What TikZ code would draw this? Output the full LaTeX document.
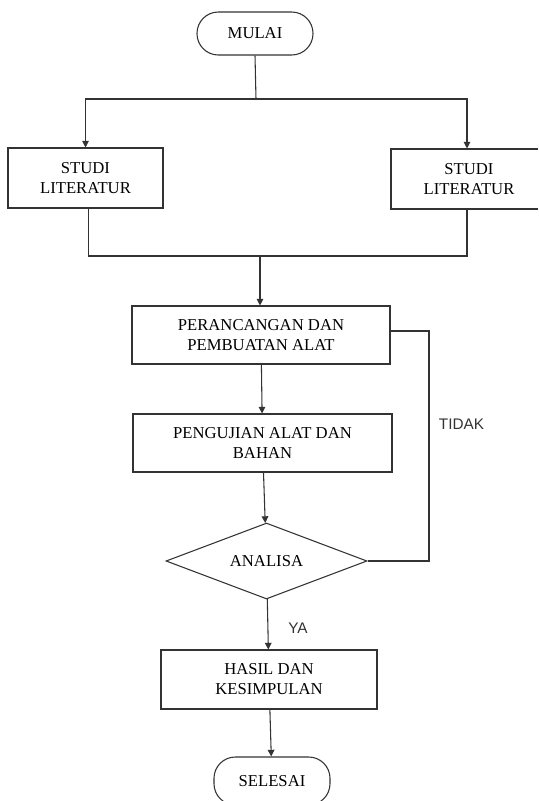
\documentclass[tikz,border=0pt]{standalone}
\usepackage{fontspec}
\setmainfont{Liberation Serif}
\setsansfont{Liberation Sans}
\usetikzlibrary{shapes.geometric,arrows.meta}

\tikzset{
    box/.style={draw=black!80, line width=0.8pt, align=center, inner sep=2pt,
        font=\fontsize{12.5}{15}\selectfont},
    terminal/.style={box, rounded corners=16pt, minimum width=87pt, minimum height=32.25pt},
    decision/.style={box, diamond, aspect=2.6, inner sep=0pt},
    line/.style={draw=black!80, line width=0.8pt},
    arr/.style={line, -{Triangle[width=5pt,length=5pt]}},
    lbl/.style={font=\sffamily\fontsize{11.5}{13}\selectfont, text=black!80}
}

\begin{document}
\begin{tikzpicture}[x=0.75pt, y=-0.75pt] %1px = 0.75pt
            \clip (0,0) rectangle (539,801);

            \node[terminal] (mulai) at (255,33.5) {MULAI};

            \node[box, minimum width=116.25pt, minimum height=45pt] (studiA) at (85.5,178) {STUDI\\LITERATUR};
            % right box runs past the page edge
            \node[box, minimum width=117pt, minimum height=45pt] (studiB) at (469,179) {STUDI\\LITERATUR};
            \fill[white] (538.2,140) rectangle (545,220);

            \node[box, minimum width=193.5pt, minimum height=43.5pt] (rancang) at (261,335) {PERANCANGAN DAN\\PEMBUATAN ALAT};
            \node[box, minimum width=194.25pt, minimum height=43.5pt] (uji) at (262.5,443) {PENGUJIAN ALAT DAN\\BAHAN};

            \node[decision, minimum width=150.75pt, minimum height=57pt] (analisa) at (266.5,561) {ANALISA};

            \node[box, minimum width=162pt, minimum height=44.25pt] (hasil) at (269,679.5) {HASIL DAN\\KESIMPULAN};
            \node[terminal, minimum height=36pt] (selesai) at (272,781) {SELESAI};

            %\node at (255,-10) {START};

            \coordinate (split) at (256,99);
            \coordinate (join) at (260,256);
            \coordinate (back) at (429,331);

            \draw[line] (mulai.south) -- (split);
            \draw[arr] (split) -| (studiA.north);
            \draw[arr] (split) -| ([xshift=-1.5pt]studiB.north);

            \draw[line] ([xshift=2.5pt]studiA.south) |- (join) -| ([xshift=-1.5pt]studiB.south);
            \draw[arr] (join) -- (join |- rancang.north);

            \draw[arr] (rancang) -- (uji);
            \draw[arr] (uji) -- (analisa);
            \draw[arr] (analisa) -- (hasil);
            \draw[arr] (hasil) -- (selesai);

            % loop back
            \draw[line] (analisa.east) -| (back) -- (back -| rancang.east);

            \node[lbl] (tidak) at (461.5,424.5) {TIDAK};
            \node[lbl] (ya) at (298,628.5) {YA};
\end{tikzpicture}
\end{document}
